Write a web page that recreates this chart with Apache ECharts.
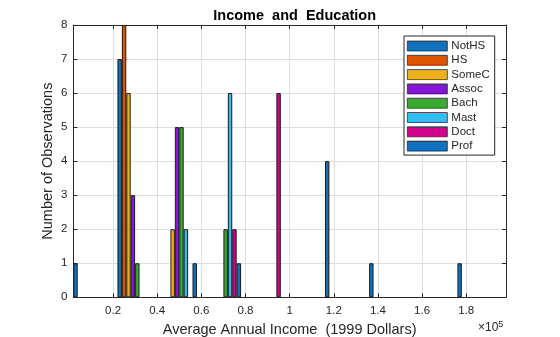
<!DOCTYPE html>
<html>
<head>
<meta charset="utf-8">
<script src="https://cdn.jsdelivr.net/npm/echarts@6/dist/echarts.min.js"></script>
<style>
  html, body { margin: 0; padding: 0; background: #fff; }
  #chart { width: 560px; height: 337px; }
</style>
</head>
<body>
<div id="chart"></div>
<script>
// Income bin centres (dollars) and counts per education level
const incomeBins = [10000, 30000, 50000, 70000, 90000, 110000, 130000, 150000, 170000, 190000];
const seriesNames = ['NotHS', 'HS', 'SomeC', 'Assoc', 'Bach', 'Mast', 'Doct', 'Prof'];
const notHS = [1, 7, 0, 0, 0, 0, 0, 0, 0, 0];
const hs    = [0, 8, 0, 0, 0, 0, 0, 0, 0, 0];
const someC = [0, 6, 2, 0, 0, 0, 0, 0, 0, 0];
const assoc = [0, 3, 5, 0, 0, 0, 0, 0, 0, 0];
const bach  = [0, 1, 5, 2, 0, 0, 0, 0, 0, 0];
const mast  = [0, 0, 2, 6, 0, 0, 0, 0, 0, 0];
const doct  = [0, 0, 0, 2, 6, 0, 0, 0, 0, 0];
const prof  = [0, 0, 1, 1, 0, 4, 1, 0, 1, 0];
const xTicks = [20000, 40000, 60000, 80000, 100000, 120000, 140000, 160000, 180000];
const yTicks = [0, 1, 2, 3, 4, 5, 6, 7, 8];

const counts = [notHS, hs, someC, assoc, bach, mast, doct, prof];
const colors = ['#1171BE', '#DD5400', '#EDB120', '#8516D1', '#3BAA32', '#2FBEEF', '#D1048B', '#1171BE'];

const xMin = 2000, xMax = 198000;
const gridLeft = 73.3, gridRight = 54, gridTop = 25, gridBottom = 39.7;
const plotW = 560 - gridLeft - gridRight;
// each bar covers 1/10 of a bin spacing (8 bars fill 80% of each group)
const barPx = plotW * ((incomeBins[1] - incomeBins[0]) * 0.1) / (xMax - xMin);

const FONT = 'Liberation Sans, Arial, Helvetica, sans-serif';
const INK = '#262626';
const LABEL_SIZE = 14.5;

const chart = echarts.init(document.getElementById('chart'), null, { renderer: 'canvas' });

const series = counts.map((arr, i) => ({
  name: seriesNames[i],
  type: 'bar',
  xAxisIndex: 0,
  yAxisIndex: 0,
  barWidth: barPx,
  barGap: '0%',
  itemStyle: { color: colors[i], borderColor: '#1a1a1a', borderWidth: 1 },
  emphasis: { disabled: true },
  data: arr.map((v, k) => [incomeBins[k], v === 0 ? null : v])
}));

const fmt = v => String(+(v / 1e5).toFixed(1));

chart.setOption({
  animation: false,
  backgroundColor: '#fff',
  title: {
    text: 'Income  and  Education',
    left: gridLeft + plotW / 2,
    textAlign: 'center',
    top: 3,
    textStyle: { fontFamily: FONT, fontSize: LABEL_SIZE, fontWeight: 'bold', color: '#000' }
  },
  legend: {
    data: seriesNames,
    orient: 'vertical',
    left: 404,
    top: 36,
    itemWidth: 40,
    itemHeight: 10,
    itemGap: 2.3,
    padding: [4, 5, 3, 3],
    borderColor: INK,
    borderWidth: 1,
    backgroundColor: '#fff',
    icon: 'rect',
    itemStyle: { borderWidth: 0.7, borderColor: '#1a1a1a' },
    textStyle: { fontFamily: FONT, fontSize: 11.5, lineHeight: 12, color: INK, padding: [0, 0, 0, -1] }
  },
  grid: {
    left: gridLeft, right: gridRight, top: gridTop, bottom: gridBottom,
    outerBoundsMode: 'none', containLabel: false
  },
  xAxis: [{
    type: 'value',
    min: xMin,
    max: xMax,
    name: 'Average Annual Income  (1999 Dollars)',
    nameLocation: 'middle',
    nameGap: 23,
    nameTextStyle: { fontFamily: FONT, fontSize: LABEL_SIZE, color: INK },
    axisLine: { show: true, lineStyle: { color: INK, width: 1 } },
    axisTick: { show: true, inside: true, length: 4, customValues: xTicks, lineStyle: { color: INK } },
    axisLabel: { customValues: xTicks, formatter: fmt, fontFamily: FONT, fontSize: 11.5, color: INK, margin: 8 },
    splitLine: { show: true, lineStyle: { color: '#dedede', width: 1 } }
  }, {
    type: 'value',
    position: 'top',
    min: xMin,
    max: xMax,
    axisLine: { show: true, onZero: false, lineStyle: { color: INK, width: 1 } },
    axisTick: { show: true, inside: true, length: 4, customValues: xTicks, lineStyle: { color: INK } },
    axisLabel: { show: false },
    splitLine: { show: false }
  }],
  yAxis: [{
    type: 'value',
    min: yTicks[0],
    max: yTicks[yTicks.length - 1],
    interval: 1,
    name: 'Number of Observations',
    nameLocation: 'middle',
    nameGap: 18,
    nameMoveOverlap: false,
    nameTextStyle: { fontFamily: FONT, fontSize: LABEL_SIZE, color: INK },
    axisLine: { show: true, lineStyle: { color: INK, width: 1 } },
    axisTick: { show: true, inside: true, length: 4, lineStyle: { color: INK } },
    axisLabel: { fontFamily: FONT, fontSize: 11.5, color: INK, margin: 6 },
    splitLine: { show: true, lineStyle: { color: '#dedede', width: 1 } }
  }, {
    type: 'value',
    position: 'right',
    min: yTicks[0],
    max: yTicks[yTicks.length - 1],
    interval: 1,
    axisLine: { show: true, onZero: false, lineStyle: { color: INK, width: 1 } },
    axisTick: { show: true, inside: true, length: 4, lineStyle: { color: INK } },
    axisLabel: { show: false },
    splitLine: { show: false }
  }],
  graphic: [{
    type: 'text',
    left: 478,
    top: 320,
    style: {
      text: '×10{s|5}',
      rich: { s: { fontSize: 9, verticalAlign: 'top', fontFamily: FONT, fill: INK, padding: [0, 0, 6, 0] } },
      fontFamily: FONT,
      fontSize: 12,
      fill: INK
    }
  }],
  series: series
});
</script>
</body>
</html>
